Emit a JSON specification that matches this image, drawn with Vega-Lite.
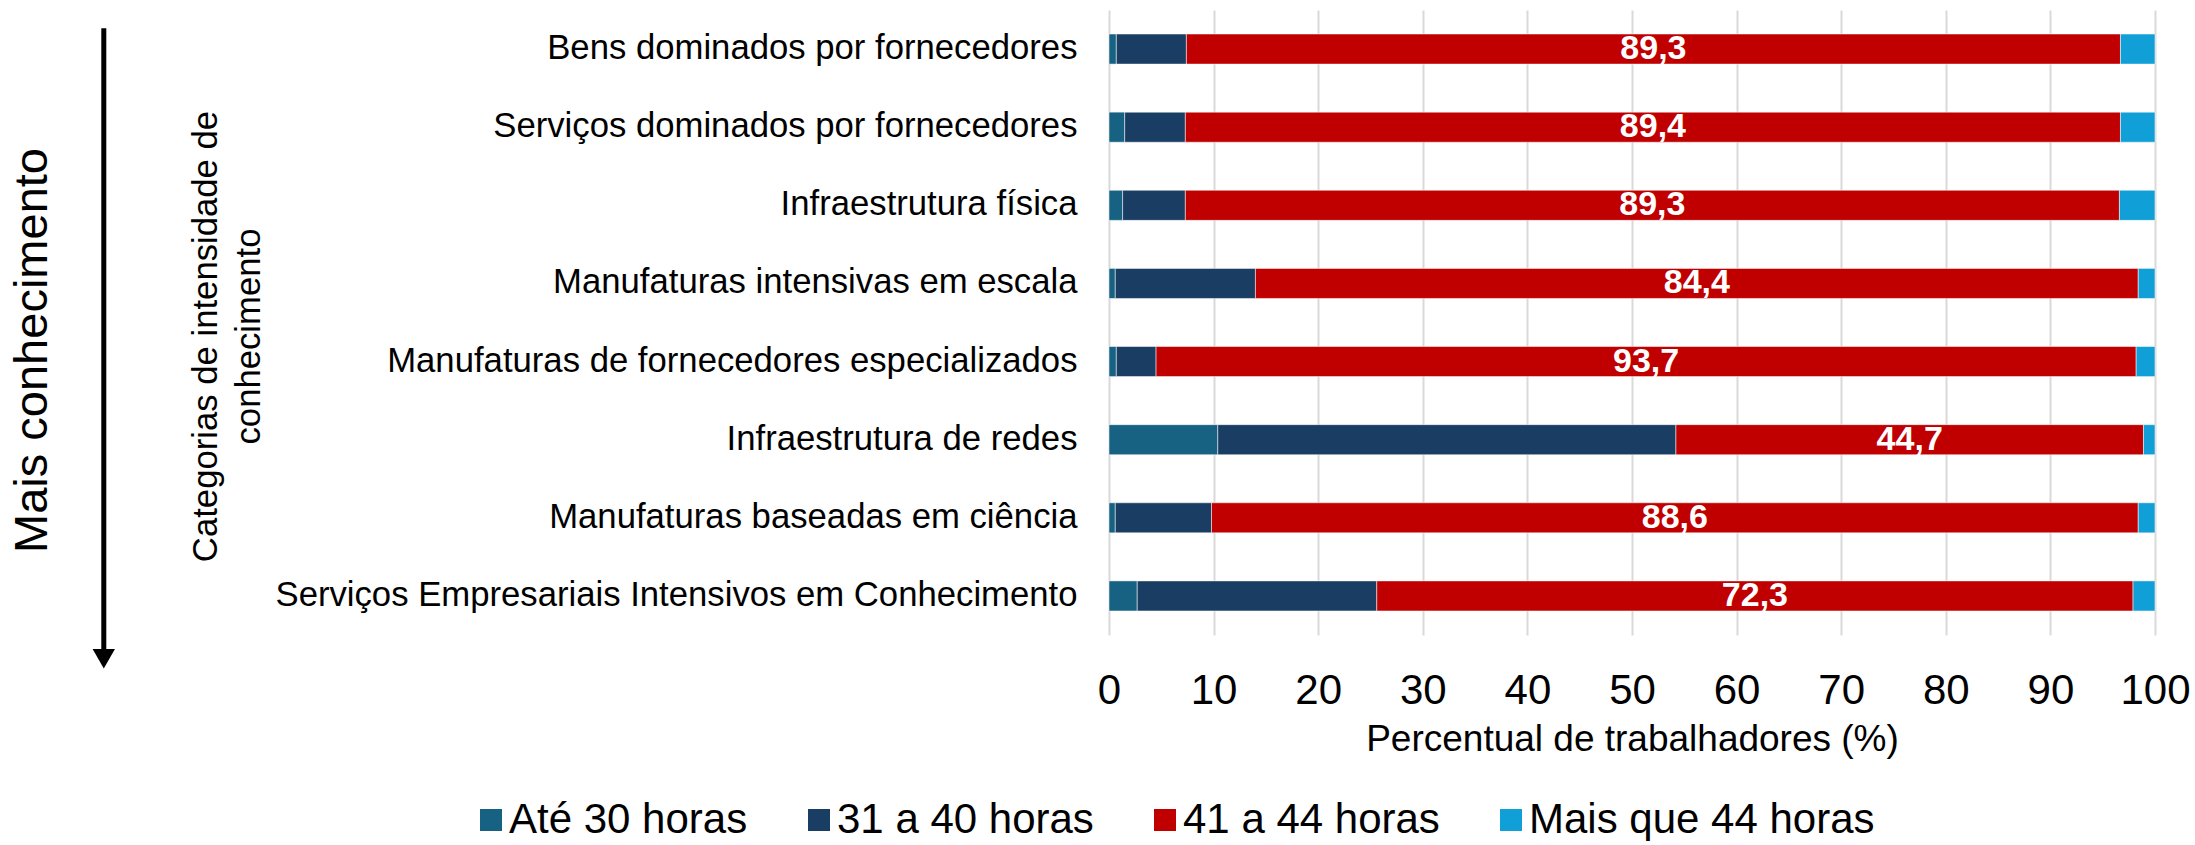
{
  "$schema": "https://vega.github.io/schema/vega-lite/v6.json",
  "width": 1046,
  "height": 625,
  "padding": {"left": 8, "top": 10, "right": 0, "bottom": 0},
  "background": "white",
  "config": {
    "font": "Liberation Sans",
    "view": {"stroke": null},
    "locale": {"number": {"decimal": ",", "thousands": ".", "grouping": [3], "currency": ["R$", ""]}}
  },
  "title": {"text": "Mais conhecimento", "orient": "left", "anchor": "middle", "fontSize": 47, "fontWeight": "normal", "color": "black", "offset": 36, "dx": -28},
  "datasets": {
    "horas": [
      {"categoria": "Bens dominados por fornecedores", "faixa": "Até 30 horas", "ordem": 1, "valor": 0.7},
      {"categoria": "Bens dominados por fornecedores", "faixa": "31 a 40 horas", "ordem": 2, "valor": 6.7},
      {"categoria": "Bens dominados por fornecedores", "faixa": "41 a 44 horas", "ordem": 3, "valor": 89.3},
      {"categoria": "Bens dominados por fornecedores", "faixa": "Mais que 44 horas", "ordem": 4, "valor": 3.3},
      {"categoria": "Serviços dominados por fornecedores", "faixa": "Até 30 horas", "ordem": 1, "valor": 1.5},
      {"categoria": "Serviços dominados por fornecedores", "faixa": "31 a 40 horas", "ordem": 2, "valor": 5.8},
      {"categoria": "Serviços dominados por fornecedores", "faixa": "41 a 44 horas", "ordem": 3, "valor": 89.4},
      {"categoria": "Serviços dominados por fornecedores", "faixa": "Mais que 44 horas", "ordem": 4, "valor": 3.3},
      {"categoria": "Infraestrutura física", "faixa": "Até 30 horas", "ordem": 1, "valor": 1.3},
      {"categoria": "Infraestrutura física", "faixa": "31 a 40 horas", "ordem": 2, "valor": 6.0},
      {"categoria": "Infraestrutura física", "faixa": "41 a 44 horas", "ordem": 3, "valor": 89.3},
      {"categoria": "Infraestrutura física", "faixa": "Mais que 44 horas", "ordem": 4, "valor": 3.4},
      {"categoria": "Manufaturas intensivas em escala", "faixa": "Até 30 horas", "ordem": 1, "valor": 0.6},
      {"categoria": "Manufaturas intensivas em escala", "faixa": "31 a 40 horas", "ordem": 2, "valor": 13.4},
      {"categoria": "Manufaturas intensivas em escala", "faixa": "41 a 44 horas", "ordem": 3, "valor": 84.4},
      {"categoria": "Manufaturas intensivas em escala", "faixa": "Mais que 44 horas", "ordem": 4, "valor": 1.6},
      {"categoria": "Manufaturas de fornecedores especializados", "faixa": "Até 30 horas", "ordem": 1, "valor": 0.7},
      {"categoria": "Manufaturas de fornecedores especializados", "faixa": "31 a 40 horas", "ordem": 2, "valor": 3.8},
      {"categoria": "Manufaturas de fornecedores especializados", "faixa": "41 a 44 horas", "ordem": 3, "valor": 93.7},
      {"categoria": "Manufaturas de fornecedores especializados", "faixa": "Mais que 44 horas", "ordem": 4, "valor": 1.8},
      {"categoria": "Infraestrutura de redes", "faixa": "Até 30 horas", "ordem": 1, "valor": 10.4},
      {"categoria": "Infraestrutura de redes", "faixa": "31 a 40 horas", "ordem": 2, "valor": 43.8},
      {"categoria": "Infraestrutura de redes", "faixa": "41 a 44 horas", "ordem": 3, "valor": 44.7},
      {"categoria": "Infraestrutura de redes", "faixa": "Mais que 44 horas", "ordem": 4, "valor": 1.1},
      {"categoria": "Manufaturas baseadas em ciência", "faixa": "Até 30 horas", "ordem": 1, "valor": 0.6},
      {"categoria": "Manufaturas baseadas em ciência", "faixa": "31 a 40 horas", "ordem": 2, "valor": 9.2},
      {"categoria": "Manufaturas baseadas em ciência", "faixa": "41 a 44 horas", "ordem": 3, "valor": 88.6},
      {"categoria": "Manufaturas baseadas em ciência", "faixa": "Mais que 44 horas", "ordem": 4, "valor": 1.6},
      {"categoria": "Serviços Empresariais Intensivos em Conhecimento", "faixa": "Até 30 horas", "ordem": 1, "valor": 2.7},
      {"categoria": "Serviços Empresariais Intensivos em Conhecimento", "faixa": "31 a 40 horas", "ordem": 2, "valor": 22.9},
      {"categoria": "Serviços Empresariais Intensivos em Conhecimento", "faixa": "41 a 44 horas", "ordem": 3, "valor": 72.3},
      {"categoria": "Serviços Empresariais Intensivos em Conhecimento", "faixa": "Mais que 44 horas", "ordem": 4, "valor": 2.1}
    ]
  },
  "layer": [
    {
      "data": {"name": "horas"},
      "transform": [
        {"stack": "valor", "groupby": ["categoria"], "sort": [{"field": "ordem", "order": "ascending"}], "as": ["v0", "v1"]},
        {"calculate": "(datum.v0 + datum.v1) / 2", "as": "meio"}
      ],
      "encoding": {
        "y": {
          "field": "categoria", "type": "nominal",
          "sort": ["Bens dominados por fornecedores", "Serviços dominados por fornecedores", "Infraestrutura física", "Manufaturas intensivas em escala", "Manufaturas de fornecedores especializados", "Infraestrutura de redes", "Manufaturas baseadas em ciência", "Serviços Empresariais Intensivos em Conhecimento"],
          "scale": {"paddingInner": 0.615, "paddingOuter": 0.3075},
          "axis": {
            "title": ["Categorias de intensidade de", "conhecimento"],
            "titleFontSize": 34.7, "titleFontWeight": "normal", "titleColor": "black", "titleLineHeight": 43,
            "titleBaseline": "middle", "titleX": -903, "titleY": 326, "titleAngle": 270,
            "labelFontSize": 34.7, "labelColor": "black", "labelPadding": 32, "ticks": false, "domain": false, "labelLimit": 1000
          }
        }
      },
      "layer": [
        {
          "mark": {"type": "bar", "stroke": "white", "strokeWidth": 1, "strokeOpacity": 0.5},
          "encoding": {
            "x": {
              "field": "v0", "type": "quantitative", "scale": {"domain": [0, 100]},
              "axis": {
                "title": "Percentual de trabalhadores (%)",
                "values": [0, 10, 20, 30, 40, 50, 60, 70, 80, 90, 100],
                "grid": true, "gridColor": "#d9d9d9", "gridWidth": 2,
                "domain": false, "ticks": false, "labelFlush": false,
                "labelFontSize": 42, "labelColor": "black", "labelPadding": 35,
                "titleFontSize": 37, "titleFontWeight": "normal", "titleColor": "black", "titlePadding": 10
              }
            },
            "x2": {"field": "v1"},
            "color": {
              "field": "faixa", "type": "nominal",
              "scale": {"domain": ["Até 30 horas", "31 a 40 horas", "41 a 44 horas", "Mais que 44 horas"],
                        "range": ["#176183", "#1a3d63", "#c00000", "#109fd7"]},
              "legend": {
                "orient": "none", "legendX": -639, "legendY": 789, "direction": "horizontal", "title": null,
                "symbolType": "square", "symbolSize": 484, "symbolStrokeWidth": 0,
                "labelFontSize": 42, "labelColor": "black", "labelOffset": -3, "columnPadding": 50, "labelLimit": 600
              }
            }
          }
        },
        {
          "transform": [{"filter": "datum.faixa === '41 a 44 horas'"}],
          "mark": {"type": "text", "color": "white", "fontWeight": "bold", "fontSize": 34, "baseline": "middle", "align": "center"},
          "encoding": {
            "x": {"field": "meio", "type": "quantitative"},
            "text": {"field": "valor", "type": "quantitative", "format": ".1f"}
          }
        }
      ]
    },
    {
      "data": {"values": [{}]},
      "mark": {"type": "rule", "strokeWidth": 5, "color": "black"},
      "encoding": {
        "x": {"datum": -96.1, "type": "quantitative"},
        "y": {"datum": 0.971, "type": "quantitative", "scale": {"domain": [0, 1]}, "axis": null},
        "y2": {"datum": -0.025}
      }
    },
    {
      "data": {"values": [{}]},
      "mark": {"type": "point", "shape": "triangle-down", "filled": true, "color": "black", "size": 500, "opacity": 1},
      "encoding": {
        "x": {"datum": -96.1, "type": "quantitative"},
        "y": {"datum": -0.038, "type": "quantitative", "scale": {"domain": [0, 1]}, "axis": null}
      }
    }
  ],
  "resolve": {"scale": {"y": "independent"}}
}
